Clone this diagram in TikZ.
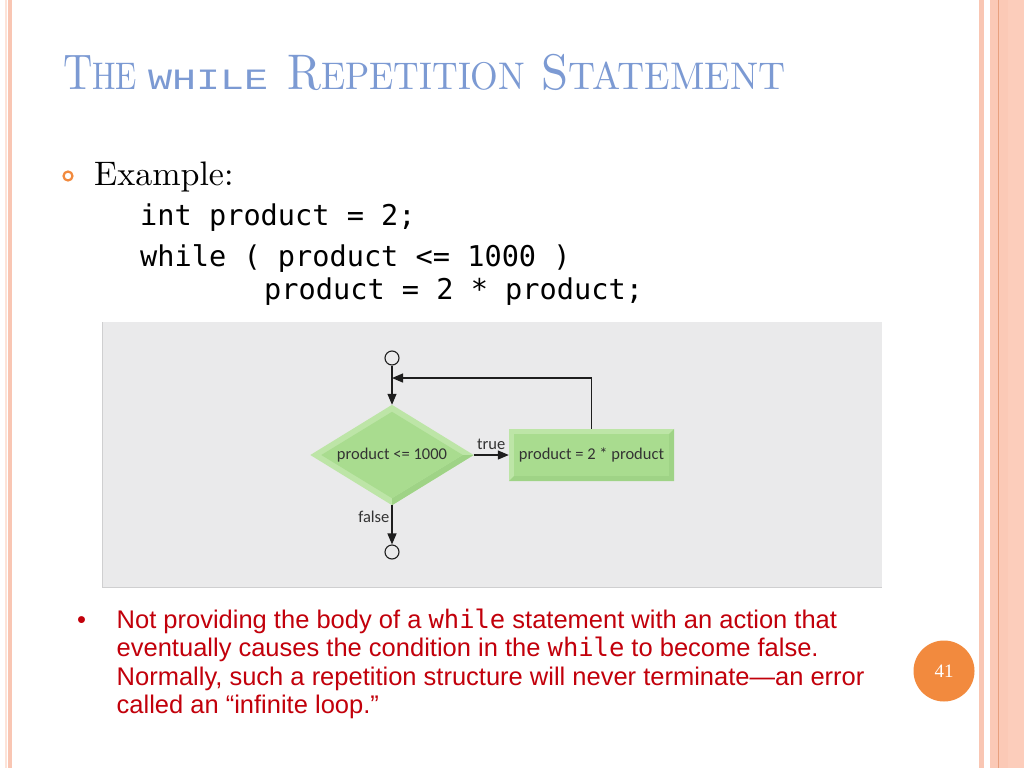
\documentclass[tikz,border=0pt]{standalone}
\usepackage{fontspec}
\usepackage{graphicx}
\usetikzlibrary{shapes.geometric,arrows.meta,calc}
\newfontfamily\monofont{DejaVu Sans Mono}
\newfontfamily\titlemono{Liberation Mono}
\newfontfamily\romanfont{lmroman10-regular.otf}
\newfontfamily\arialfont{Liberation Sans}
\newfontfamily\flowfont{Carlito}
\newfontfamily\numfont{Liberation Serif}
\newcommand{\kw}[1]{{\monofont #1}}
\definecolor{titleblue}{HTML}{7C9AD3}
\definecolor{bordersalmon}{HTML}{F9C6B3}
\definecolor{bordersoft}{HTML}{FDE3D8}
\definecolor{borderfill}{HTML}{FBC9B6}
\definecolor{borderfilltwo}{HTML}{FCCDBB}
\definecolor{borderline}{HTML}{E8A07E}
\definecolor{accentorange}{HTML}{F28A3E}
\definecolor{panelgray}{HTML}{EAEAEB}
\definecolor{paneledge}{HTML}{CFCFD0}
\definecolor{errred}{HTML}{C2000B}
\definecolor{bevlight}{HTML}{BDE5A7}
\definecolor{bevdark}{HTML}{9FD386}
\definecolor{boxgreen}{HTML}{A9DC8F}
\definecolor{flowtext}{HTML}{333333}
\definecolor{flowline}{HTML}{1E1E1E}
\pgfdeclarelayer{panel}
\pgfdeclarelayer{bevel}
\pgfsetlayers{panel,bevel,main}
\tikzset{
  titleword/.style={anchor=base west, inner sep=0pt, text=titleblue},
  codeline/.style={anchor=base west, inner sep=0pt, font=\monofont\fontsize{28.6}{30}\selectfont},
  noteline/.style={anchor=base west, inner sep=0pt, text=errred, font=\arialfont\fontsize{25.5}{28}\selectfont},
  flowlabel/.style={font=\flowfont\fontsize{16.5}{18}\selectfont, text=flowtext, inner sep=2pt},
  decision/.style={diamond, minimum width=163pt, minimum height=100pt, inner sep=0pt, aspect=1.63, flowlabel},
  action/.style={rectangle, minimum width=165pt, minimum height=52pt, inner sep=0pt, flowlabel},
  terminal/.style={circle, draw=flowline, line width=1.1pt, minimum size=14pt, inner sep=0pt},
  flowarrow/.style={draw=flowline, line width=1.3pt, -{Triangle[length=11pt,width=9pt]}},
}
\begin{document}
\begin{tikzpicture}[x=1pt,y=-1pt]
\useasboundingbox (0,0) rectangle (1024,768);
\begin{pgfonlayer}{panel}
\fill[white] (0,0) rectangle (1024,768);
% borders
\fill[bordersoft] (4.5,0) rectangle (6.5,768);
\fill[bordersalmon] (7.5,0) rectangle (12,768);
\fill[bordersalmon] (979,0) rectangle (983.5,768);
\fill[borderfill] (990,0) rectangle (1024,768);
\fill[borderfilltwo] (1008,0) rectangle (1024,768);
\draw[borderline, line width=1pt] (998.3,0) -- (998.3,768);
% panel
\fill[panelgray] (102,322) rectangle (882,587);
\draw[paneledge, line width=1pt] (102.5,322) -- (102.5,587) -- (882,587);
\end{pgfonlayer}
% title
\node[titleword] (tthe) at (63,89.5) {\resizebox{74pt}{\height}{\romanfont\fontsize{50}{50}\selectfont T\fontsize{38.5}{40}\selectfont HE}};
\node[titleword] (twhile) at (148,89.5) {\resizebox{120pt}{\height}{\titlemono\fontsize{29.5}{30}\selectfont WHILE}};
\node[titleword] (trep) at (287,89.5) {\resizebox{238pt}{\height}{\romanfont\fontsize{50}{50}\selectfont R\fontsize{38.5}{40}\selectfont EPETITION}};
\node[titleword] (tstat) at (541,89.5) {\resizebox{244pt}{\height}{\romanfont\fontsize{50}{50}\selectfont S\fontsize{38.5}{40}\selectfont TATEMENT}};
% example bullet
\node[circle, draw=accentorange, line width=2.2pt, minimum size=9pt, inner sep=0pt] (ring) at (68,176) {};
\node[anchor=base west, inner sep=0pt, font=\romanfont\fontsize{34}{36}\selectfont] (example) at (94,185) {Example:};
\node[codeline] (code1) at (140,225) {int product = 2;};
\node[codeline] (code2) at (140,266.5) {while ( product <= 1000 )};
\node[codeline] (code3) at (264,299) {product = 2 * product;};
% flowchart
\node[terminal] (start) at (392,358) {};
\node[decision] (cond) at (392,455) {product <= 1000};
\node[action] (body) at (591.5,455) {product = 2 * product};
\node[terminal] (stop) at (392,552) {};
\coordinate (merge) at (392,378);
\begin{pgfonlayer}{bevel}
\fill[bevlight] (cond.north) -- (cond.east) -- (cond.south) -- (cond.west) -- cycle;
\fill[bevdark] (cond.east) -- (cond.south) -- ($(cond.south)+(0,-7)$) -- ($(cond.east)+(-11,0)$) -- cycle;
\fill[boxgreen] ($(cond.north)+(0,7)$) -- ($(cond.east)+(-11,0)$) -- ($(cond.south)+(0,-7)$) -- ($(cond.west)+(11,0)$) -- cycle;
\fill[bevlight] (body.north west) rectangle (body.south east);
\fill[bevdark] (body.south west) -- (body.south east) -- (body.north east) -- ($(body.north east)+(-5,5)$) -- ($(body.south east)+(-5,-5)$) -- ($(body.south west)+(5,-5)$) -- cycle;
\fill[boxgreen] ($(body.north west)+(5,5)$) rectangle ($(body.south east)+(-5,-5)$);
\end{pgfonlayer}
\draw[flowarrow] (start) -- (cond);
\draw[flowarrow] (body.north) |- (merge);
\draw[flowarrow] (cond) -- node[above=3pt, flowlabel] (truelbl) {true} (body);
\draw[flowarrow] (cond) -- node[left, pos=0.3, flowlabel] (falselbl) {false} (stop);
% note
\node[noteline] (dot) at (77,628) {•};
\node[noteline] (note1) at (116.5,628) {Not providing the body of a \kw{while} statement with an action that};
\node[noteline] (note2) at (116.5,656.5) {eventually causes the condition in the \kw{while} to become false.};
\node[noteline] (note3) at (116.5,685) {Normally, such a repetition structure will never terminate—an error};
\node[noteline] (note4) at (116.5,713.5) {called an “infinite loop.”};
% page number
\node[circle, fill=accentorange, minimum size=61pt, inner sep=0pt, text=white, font=\numfont\fontsize{19}{20}\selectfont] (pagenum) at (944,671) {41};
\end{tikzpicture}
\end{document}
